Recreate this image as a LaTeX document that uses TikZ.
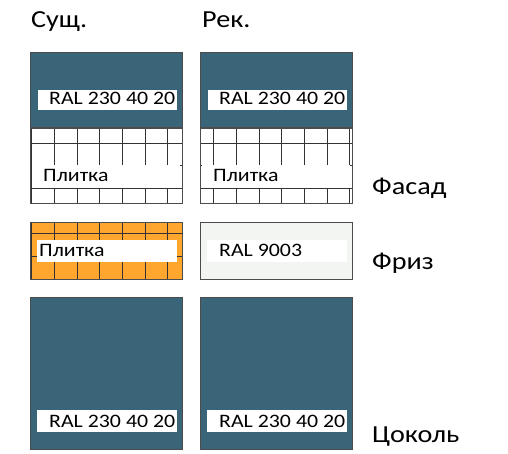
\documentclass[tikz,border=0pt]{standalone}
\usepackage{fontspec}
\setmainfont{Carlito}[FakeStretch=1.15]
\definecolor{ralblue}{RGB}{58,100,120}
\definecolor{tileorange}{RGB}{255,166,46}
\definecolor{ralwhite}{RGB}{242,245,242}
\tikzset{
  panel/.style={draw=black!70,line width=0.8pt},
  joint/.style={draw=black!80,line width=0.9pt},
  tagtext/.style={anchor=base west,inner sep=0pt,font=\fontsize{19}{22}\selectfont},
  headtext/.style={anchor=base west,inner sep=0pt,font=\fontsize{24.5}{28}\selectfont}
}
\begin{document}
\begin{tikzpicture}[x=1pt,y=-1pt]
\useasboundingbox (0,0) rectangle (508,454);
% headings
\node[headtext] (hExist) at (31,28) {Сущ.};
\node[headtext] (hNew) at (202,28) {Рек.};
\node[headtext] (hFacade) at (372,195) {Фасад};
\node[headtext] (hFrieze) at (372,269) {Фриз};
\node[headtext] (hBase) at (372,442) {Цоколь};
% existing
\begin{scope}
\fill[ralblue] (30,52) rectangle (182,127);
\draw[panel] (30,52) rectangle (182,127);
\fill[white] (38,90) rectangle (177,110);
\node[tagtext] (topA) at (49,105) {RAL 230 40 20};
\begin{scope}
\clip (30,128) rectangle (182,203);
\foreach \x in {0,...,6} \draw[joint] (31.7+22.7*\x,128) -- (31.7+22.7*\x,203);
\foreach \y in {143,165.7,188.4} \draw[joint] (30,\y) -- (182,\y);
\end{scope}
\draw[panel] (30,128) rectangle (182,203);
\fill[white] (32,165.5) rectangle (180,188);
\node[tagtext] (facA) at (43,181.7) {Плитка};
\fill[tileorange] (30,222) rectangle (182,279);
\begin{scope}
\clip (30,222) rectangle (182,279);
\foreach \x in {0,...,6} \draw[joint] (31.7+22.7*\x,222) -- (31.7+22.7*\x,279);
\foreach \y in {233.3,256.7} \draw[joint] (30,\y) -- (182,\y);
\end{scope}
\draw[panel] (30,222) rectangle (182,279);
\fill[white] (37,240) rectangle (177,262);
\node[tagtext] (friA) at (39,256.7) {Плитка};
\fill[ralblue] (30,297) rectangle (182,449);
\draw[panel] (30,297) rectangle (182,449);
\fill[white] (37,410) rectangle (177,432);
\node[tagtext] (baseA) at (49,427) {RAL 230 40 20};
\end{scope}
% proposed
\begin{scope}
\fill[ralblue] (200,52) rectangle (352,127);
\draw[panel] (200,52) rectangle (352,127);
\fill[white] (208,90) rectangle (347,110);
\node[tagtext] (topB) at (219,105) {RAL 230 40 20};
\begin{scope}
\clip (200,128) rectangle (352,203);
\foreach \x in {0,...,6} \draw[joint] (213.7+22.7*\x,128) -- (213.7+22.7*\x,203);
\foreach \y in {143,165.7,188.4} \draw[joint] (200,\y) -- (352,\y);
\end{scope}
\draw[panel] (200,128) rectangle (352,203);
\fill[white] (202,165.5) rectangle (350,188);
\node[tagtext] (facB) at (213,181.7) {Плитка};
\fill[ralwhite] (200,222) rectangle (352,279);
\draw[panel] (200,222) rectangle (352,279);
\fill[white] (207,240) rectangle (347,262);
\node[tagtext] (friB) at (219,256.7) {RAL 9003};
\fill[ralblue] (200,297) rectangle (352,449);
\draw[panel] (200,297) rectangle (352,449);
\fill[white] (207,410) rectangle (347,432);
\node[tagtext] (baseB) at (219,427) {RAL 230 40 20};
\end{scope}
\end{tikzpicture}
\end{document}
